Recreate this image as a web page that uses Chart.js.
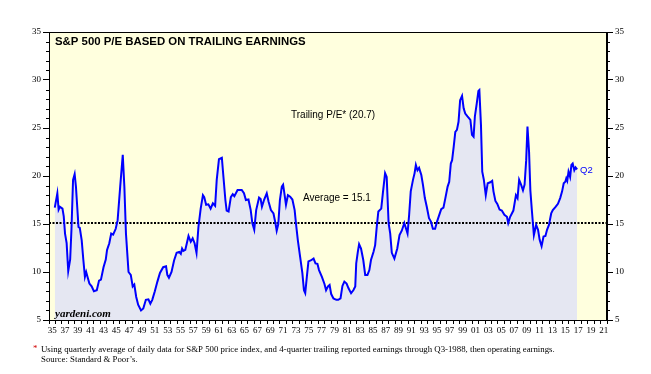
<!DOCTYPE html>
<html lang="en">
<head>
<meta charset="utf-8" />
<title>S&amp;P 500 P/E based on trailing earnings</title>
<script src="https://cdn.jsdelivr.net/npm/chart.js"></script>
<style>
  html, body { margin: 0; padding: 0; background: #fff; }
  #wrap { width: 651px; height: 374px; position: relative; }
</style>
</head>
<body>
<div id="wrap"><canvas id="pe" width="651" height="374"></canvas></div>
<script>
// quarterly P/E (decimal year, value)
var years = [
  1935.9, 1936.3, 1936.5, 1936.7, 1937.1, 1937.3, 1937.5, 1937.75, 1938.0, 1938.3,
  1938.5, 1938.75, 1939.0, 1939.2, 1939.4, 1939.6, 1939.8, 1940.1, 1940.35, 1940.6,
  1940.8, 1941.0, 1941.3, 1941.65, 1942.0, 1942.45, 1942.8, 1943.1, 1943.5, 1943.85,
  1944.05, 1944.4, 1944.7, 1945.0, 1945.4, 1945.7, 1946.1, 1946.5, 1946.75, 1947.0,
  1947.4, 1947.75, 1948.05, 1948.3, 1948.6, 1948.9, 1949.35, 1949.7, 1950.1, 1950.5,
  1950.8, 1951.1, 1951.5, 1951.9, 1952.3, 1952.8, 1953.25, 1953.45, 1953.7, 1954.1,
  1954.5, 1954.9, 1955.3, 1955.55, 1955.75, 1955.95, 1956.25, 1956.75, 1957.1, 1957.4,
  1957.7, 1958.0, 1958.3, 1958.65, 1959.0, 1959.2, 1959.5, 1959.85, 1960.2, 1960.55,
  1960.9, 1961.15, 1961.5, 1961.95, 1962.2, 1962.5, 1962.7, 1963.0, 1963.35, 1963.65,
  1963.9, 1964.4, 1965.05, 1965.4, 1965.7, 1966.1, 1966.45, 1966.7, 1967.0, 1967.3,
  1967.75, 1968.0, 1968.2, 1968.55, 1968.95, 1969.25, 1969.6, 1970.0, 1970.3, 1970.5,
  1970.75, 1971.0, 1971.3, 1971.5, 1971.7, 1971.95, 1972.25, 1972.6, 1972.95, 1973.3,
  1973.5, 1973.8, 1974.15, 1974.5, 1974.75, 1974.95, 1975.2, 1975.45, 1975.8, 1976.25,
  1976.55, 1976.85, 1977.1, 1977.55, 1977.95, 1978.2, 1978.5, 1978.75, 1979.0, 1979.35,
  1979.8, 1980.1, 1980.45, 1980.75, 1981.05, 1981.4, 1981.7, 1982.1, 1982.45, 1982.75,
  1982.9, 1983.15, 1983.35, 1983.65, 1984.0, 1984.3, 1984.65, 1984.95, 1985.2, 1985.6,
  1985.85, 1986.1, 1986.35, 1986.8, 1987.05, 1987.4, 1987.65, 1987.95, 1988.2, 1988.45,
  1988.85, 1989.3, 1989.65, 1990.0, 1990.4, 1990.65, 1990.9, 1991.15, 1991.4, 1991.75,
  1992.0, 1992.2, 1992.45, 1992.7, 1993.05, 1993.3, 1993.6, 1993.9, 1994.25, 1994.55,
  1994.85, 1995.2, 1995.5, 1995.85, 1996.15, 1996.5, 1996.8, 1997.15, 1997.4, 1997.65,
  1997.85, 1998.1, 1998.35, 1998.6, 1998.85, 1999.1, 1999.4, 1999.65, 1999.9, 2000.25,
  2000.7, 2000.95, 2001.2, 2001.4, 2001.7, 2001.95, 2002.1, 2002.35, 2002.55, 2002.8,
  2003.1, 2003.4, 2003.8, 2004.1, 2004.3, 2004.6, 2004.9, 2005.25, 2005.6, 2006.0,
  2006.4, 2006.6, 2006.9, 2007.4, 2007.8, 2008.05, 2008.3, 2008.6, 2008.9, 2009.15,
  2009.4, 2009.6, 2009.85, 2010.05, 2010.3, 2010.6, 2010.95, 2011.25, 2011.5, 2011.8,
  2012.1, 2012.4, 2012.65, 2012.95, 2013.3, 2013.55, 2013.95, 2014.35, 2014.7, 2015.0,
  2015.25, 2015.5, 2015.65, 2015.8, 2016.0, 2016.25, 2016.45, 2016.65, 2016.9, 2017.1,
  2017.35
];
var peValues = [
  16.7, 18.2, 16.5, 16.8, 16.6, 15.8, 14.0, 13.0, 10.1, 11.3,
  14.4, 19.6, 20.2, 18.9, 16.8, 14.7, 14.6, 13.3, 11.3, 9.5,
  10.0, 9.5, 8.8, 8.5, 8.0, 8.1, 9.1, 9.2, 10.5, 11.3,
  12.3, 13.0, 14.0, 13.9, 14.5, 15.4, 18.9, 22.2, 18.9, 14.0,
  10.0, 9.7, 8.5, 8.7, 7.4, 6.6, 6.0, 6.2, 7.1, 7.15,
  6.7, 7.1, 8.0, 9.0, 9.9, 10.5, 10.6, 9.7, 9.4, 10.0,
  11.2, 12.0, 12.1, 11.9, 12.45, 12.2, 12.3, 13.75, 13.15, 13.5,
  13.0, 12.0, 14.7, 16.6, 18.0, 17.8, 17.0, 17.05, 16.6, 17.15,
  16.9, 19.6, 21.75, 21.9, 19.9, 17.5, 16.4, 16.3, 17.8, 18.1,
  17.9, 18.55, 18.55, 18.2, 17.5, 17.55, 16.45, 15.1, 14.4, 16.45,
  17.75, 17.6, 16.8, 17.55, 18.2, 17.3, 16.45, 16.1, 15.1, 14.3,
  15.0, 17.5, 18.9, 19.1, 18.2, 17.0, 18.0, 17.85, 17.55, 16.45,
  15.1, 13.3, 11.6, 9.9, 8.1, 7.8, 9.5, 11.1, 11.2, 11.4,
  10.9, 10.85, 10.2, 9.5, 8.75, 8.1, 8.5, 8.65, 7.7, 7.25,
  7.1, 7.1, 7.25, 8.55, 9.0, 8.8, 8.3, 7.8, 8.1, 8.5,
  10.9, 12.1, 12.9, 12.45, 11.25, 9.7, 9.7, 10.2, 11.25, 12.1,
  12.8, 14.7, 16.3, 16.6, 18.2, 20.3, 19.9, 15.1, 14.0, 12.0,
  11.4, 12.45, 13.85, 14.3, 15.1, 14.55, 14.0, 15.95, 18.4, 19.6,
  20.3, 21.15, 20.6, 20.85, 20.1, 19.1, 17.7, 16.8, 15.6, 15.25,
  14.5, 14.5, 15.25, 15.95, 16.55, 16.7, 17.7, 18.9, 19.4, 21.3,
  21.65, 23.05, 24.6, 24.8, 25.65, 27.9, 28.35, 27.05, 26.5, 26.2,
  25.85, 24.3, 24.1, 26.2, 27.6, 28.85, 28.95, 25.3, 20.45, 19.6,
  18.0, 19.25, 19.35, 19.5, 18.4, 17.4, 17.1, 16.5, 16.4, 15.95,
  15.75, 15.1, 15.75, 16.4, 18.0, 17.7, 19.6, 19.1, 18.5, 19.1,
  21.65, 25.15, 22.5, 18.5, 16.3, 13.85, 14.9, 14.4, 13.35, 12.7,
  13.7, 13.75, 14.4, 14.9, 16.1, 16.45, 16.75, 17.1, 17.7, 18.4,
  19.25, 19.4, 19.75, 19.5, 20.45, 19.9, 21.15, 21.3, 20.6, 20.9,
  20.7
];
var average = 15.1;
var yearRange = [1935, 2022];
var peRange = [5, 35];

var pePoints = years.map(function (y, i) { return { x: y, y: peValues[i] }; });
var avgPoints = [{ x: yearRange[0], y: average }, { x: yearRange[1], y: average }];

Chart.defaults.color = "#000";
Chart.defaults.font.family = "'Liberation Serif', 'DejaVu Serif', serif";
Chart.defaults.font.size = 9;

// yellow panel, frame, minor ticks and the texts
var decor = {
  id: "decor",
  beforeDraw: function (chart) {
    var a = chart.chartArea, ctx = chart.ctx;
    ctx.save();
    ctx.fillStyle = "#fff";
    ctx.fillRect(0, 0, chart.width, chart.height);
    ctx.fillStyle = "#ffffde";
    ctx.fillRect(a.left, a.top, a.right - a.left, a.bottom - a.top);
    ctx.restore();
  },
  afterDraw: function (chart) {
    var a = chart.chartArea, ctx = chart.ctx;
    var ys = chart.scales.y;
    ctx.save();
    ctx.strokeStyle = "#000";
    ctx.lineWidth = 1;
    ctx.strokeRect(a.left + 0.5, a.top + 0.5, a.right - a.left - 1, a.bottom - a.top);
    // minor ticks every 1
    ctx.beginPath();
    for (var v = peRange[0]; v <= peRange[1]; v++) {
      if (v % 5 === 0) continue;
      var py = Math.round(ys.getPixelForValue(v)) + 0.5;
      ctx.moveTo(a.left - 3, py); ctx.lineTo(a.left, py);
      ctx.moveTo(a.right, py); ctx.lineTo(a.right + 3, py);
    }
    ctx.stroke();

    ctx.fillStyle = "#000";
    ctx.textBaseline = "middle";
    ctx.font = "bold 11.4px 'Liberation Sans', Arial, sans-serif";
    ctx.fillText("S&P 500 P/E BASED ON TRAILING EARNINGS", 55, 42);
    ctx.font = "10px 'Liberation Sans', Arial, sans-serif";
    ctx.fillText("Trailing P/E* (20.7)", 291, 115);
    ctx.fillText("Average = 15.1", 303, 198);
    ctx.fillStyle = "#0000ff";
    ctx.font = "9.5px 'Liberation Sans', Arial, sans-serif";
    ctx.fillText("Q2", 580, 170);
    ctx.fillStyle = "#000";
    ctx.font = "italic bold 11px 'Liberation Serif', 'Times New Roman', serif";
    ctx.fillText("yardeni.com", 55, 314);

    ctx.font = "8.8px 'Liberation Serif', 'Times New Roman', serif";
    ctx.fillStyle = "#d00000";
    ctx.fillText("*", 33, 349);
    ctx.fillStyle = "#000";
    ctx.fillText("Using quarterly average of daily data for S&P 500 price index, and 4-quarter trailing reported earnings through Q3-1988, then operating earnings.", 41, 350);
    ctx.fillText("Source: Standard & Poor\u2019s.", 41, 360);
    ctx.restore();
  }
};

new Chart(document.getElementById("pe"), {
  type: "line",
  data: {
    datasets: [
      {
        label: "Trailing P/E",
        data: pePoints,
        borderColor: "#0000ff",
        borderWidth: 2,
        pointRadius: 0,
        tension: 0,
        fill: "start",
        backgroundColor: "#e5e7f2"
      },
      {
        label: "Average",
        data: avgPoints,
        borderColor: "#000",
        borderWidth: 2,
        borderDash: [2, 1.5],
        pointRadius: 0,
        fill: false
      }
    ]
  },
  options: {
    responsive: false,
    animation: false,
    devicePixelRatio: 1,
    layout: { padding: { top: 32, left: 0, right: 0, bottom: 0 } },
    plugins: {
      legend: { display: false },
      tooltip: { enabled: false },
      filler: { drawTime: "beforeDatasetsDraw" }
    },
    scales: {
      x: {
        type: "linear",
        min: yearRange[0],
        max: yearRange[1],
        afterFit: function (s) { s.height = 54; },
        grid: { drawOnChartArea: false, drawTicks: true, tickLength: 4, color: "#000" },
        border: { color: "#000" },
        ticks: {
          stepSize: 1,
          autoSkip: false,
          maxRotation: 0,
          labelOffset: 3.2,
          padding: 1,
          callback: function (v) { return v % 2 === 1 ? String(v).slice(2) : ""; }
        }
      },
      y: {
        position: "left",
        min: peRange[0],
        max: peRange[1],
        afterFit: function (s) { s.width = 49; },
        grid: { drawOnChartArea: false, drawTicks: true, tickLength: 6, color: "#000" },
        border: { color: "#000" },
        ticks: { stepSize: 5, padding: 2 }
      },
      y2: {
        position: "right",
        min: peRange[0],
        max: peRange[1],
        afterFit: function (s) { s.width = 44; },
        grid: { drawOnChartArea: false, drawTicks: true, tickLength: 6, color: "#000" },
        border: { color: "#000" },
        ticks: { stepSize: 5, padding: 2 }
      }
    }
  },
  plugins: [decor]
});
</script>
</body>
</html>
